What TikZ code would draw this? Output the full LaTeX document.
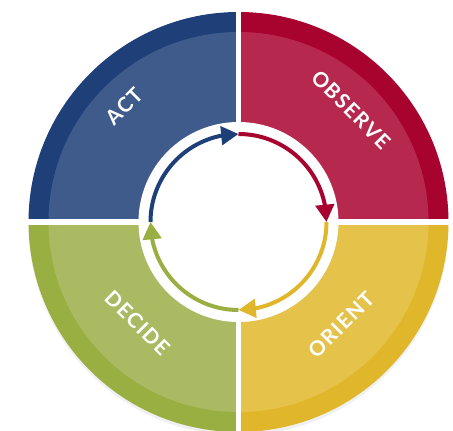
\documentclass[tikz,border=0pt]{standalone}
\usepackage{fontspec}
\newfontfamily\phasefont[LetterSpace=7]{Lato}
\usetikzlibrary{arrows.meta,bending}

\definecolor{actdark}{HTML}{1F3F78}
\definecolor{actlight}{HTML}{3E5B8B}
\definecolor{obsdark}{HTML}{A8032F}
\definecolor{obslight}{HTML}{B7284F}
\definecolor{oridark}{HTML}{E0B62B}
\definecolor{orilight}{HTML}{E5C34B}
\definecolor{decdark}{HTML}{9AAF42}
\definecolor{declight}{HTML}{A9BA62}

\begin{document}
\begin{tikzpicture}[
  line join=round,
  phase/.style={text=white, inner sep=0pt,
    font=\phasefont\bfseries\fontsize{17.6}{20}\selectfont},
  cyclearrow/.style={line width=3.4pt,
    -{Triangle[length=0.52cm,width=0.55cm]}}
]
  \useasboundingbox (-7.155,-6.27) rectangle (6.435,6.66);

  % Центр круга
  \coordinate (O) at (0,0);

  % Лёгкая тень снизу
  \fill[black!6] (0,-0.1) circle (6.3);

  % Внешнее тёмное кольцо
  \fill[obsdark] (O) -- (6.3,0) arc[start angle=0, end angle=90, radius=6.3] -- cycle;
  \fill[actdark] (O) -- (0,6.3) arc[start angle=90, end angle=180, radius=6.3] -- cycle;
  \fill[decdark] (O) -- (-6.3,0) arc[start angle=180, end angle=270, radius=6.3] -- cycle;
  \fill[oridark] (O) -- (0,-6.3) arc[start angle=270, end angle=360, radius=6.3] -- cycle;

  % Светлые секторы
  \fill[obslight] (O) -- (5.7,0) arc[start angle=0, end angle=90, radius=5.7] -- cycle;
  \fill[actlight] (O) -- (0,5.7) arc[start angle=90, end angle=180, radius=5.7] -- cycle;
  \fill[declight] (O) -- (-5.7,0) arc[start angle=180, end angle=270, radius=5.7] -- cycle;
  \fill[orilight] (O) -- (0,-5.7) arc[start angle=270, end angle=360, radius=5.7] -- cycle;

  % Белый центр и просветы между секторами
  \fill[white] (O) circle (3.0);
  \draw[white, line width=0.165cm] (0,-6.5) -- (0,6.5);
  \draw[white, line width=0.18cm] (-6.5,0) -- (6.5,0);

  % Точки на окружности стрелок
  \coordinate (W) at (180:2.64);
  \coordinate (N) at (90:2.64);
  \coordinate (E) at (0:2.64);
  \coordinate (S) at (270:2.64);

  % Стрелки цикла
  \draw[cyclearrow, actdark] (W) arc[start angle=180, end angle=90, radius=2.64];
  \draw[cyclearrow, obsdark] (N) arc[start angle=90, end angle=0, radius=2.64];
  \draw[cyclearrow, oridark] (E) arc[start angle=0, end angle=-90, radius=2.64];
  \draw[cyclearrow, decdark] (S) arc[start angle=-90, end angle=-180, radius=2.64];

  % Подписи
  \node[phase, rotate=45]  (act)     at (134.7:4.88) {ACT};
  \node[phase, rotate=-45] (observe) at (45:4.77)    {OBSERVE};
  \node[phase, rotate=45]  (orient)  at (-45:4.35)   {ORIENT};
  \node[phase, rotate=-45] (decide)  at (-135:4.29)  {DECIDE};
\end{tikzpicture}
\end{document}
